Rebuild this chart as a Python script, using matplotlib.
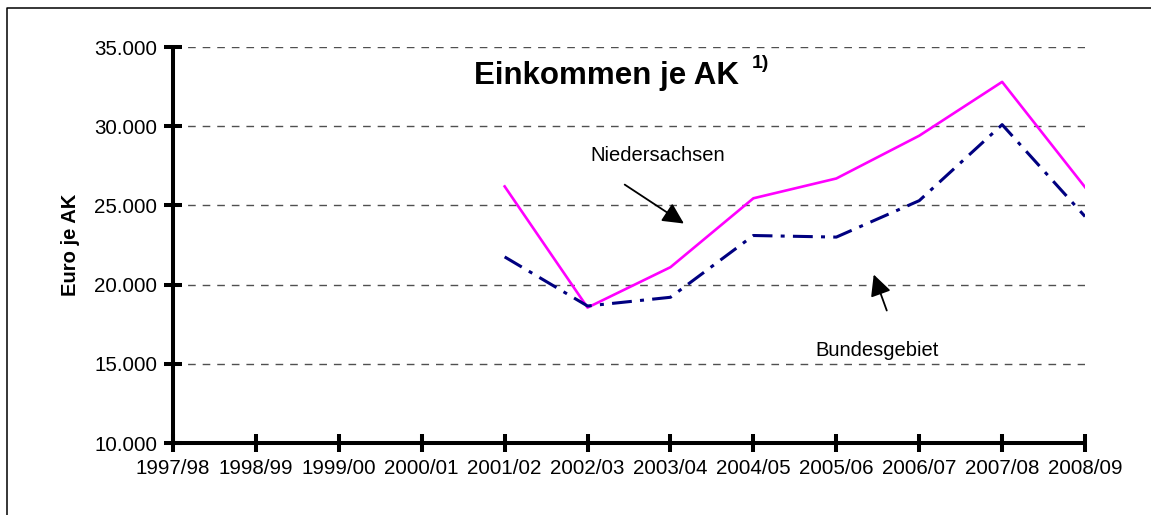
import matplotlib.pyplot as plt
from matplotlib.lines import Line2D

plt.rcParams['font.family'] = ['Liberation Sans', 'DejaVu Sans']

# data
years = ["1997/98", "1998/99", "1999/00", "2000/01", "2001/02", "2002/03",
         "2003/04", "2004/05", "2005/06", "2006/07", "2007/08", "2008/09"]
nds_years = years[4:]
niedersachsen = [26200, 18550, 21100, 25450, 26700, 29400, 32800, 26150]
bundesgebiet = [21750, 18650, 19200, 23100, 23000, 25300, 30100, 24300]
y_ticks = [10000, 15000, 20000, 25000, 30000, 35000]
y_ticklabels = ["10.000", "15.000", "20.000", "25.000", "30.000", "35.000"]

fig = plt.figure(figsize=(11.51, 5.15), dpi=100)
ax = fig.add_axes([0.1503, 0.1398, 0.7924, 0.7689])

x_all = list(range(len(years)))
x_data = [years.index(y) for y in nds_years]

# grid lines
for v in y_ticks[1:]:
    ax.axhline(v, color='#505050', lw=1.0, ls=(0, (5.5, 5)), zorder=1)

ax.plot(x_data, niedersachsen, color='#FF00FF', lw=1.9, zorder=3)
ax.plot(x_data, bundesgebiet, color='#000080', lw=2.2,
        ls=(0, (6.5, 2.7, 1.3, 2.7)), zorder=3)

ax.set_xlim(0, len(years) - 1)
ax.set_ylim(10000, 35000)
ax.set_xticks(x_all)
ax.set_xticklabels(years)
ax.set_yticks(y_ticks)
ax.set_yticklabels(y_ticklabels)

for s in ['top', 'right']:
    ax.spines[s].set_visible(False)
for s in ['left', 'bottom']:
    ax.spines[s].set_linewidth(2.9)
    ax.spines[s].set_capstyle('round')
ax.tick_params(direction='inout', length=13, width=2.9, labelsize=14.8, pad=5)
ax.tick_params(axis='y', pad=5)
for t in ax.xaxis.get_ticklines() + ax.yaxis.get_ticklines():
    t.set_solid_capstyle('round')

# annotations
ax.annotate("", xy=(6.19, 23760), xytext=(5.42, 26410),
            arrowprops=dict(arrowstyle='-|>', mutation_scale=32, lw=1.3, color='black'))
ax.text(5.85, 28180, "Niedersachsen", ha='center', va='center', fontsize=14.5)
ax.annotate("", xy=(8.44, 20800), xytext=(8.62, 18200),
            arrowprops=dict(arrowstyle='-|>', mutation_scale=32, lw=1.3, color='black'))
ax.text(8.49, 15870, "Bundesgebiet", ha='center', va='center', fontsize=14.5)

# title and axis label
fig.text(0.527, 0.852, "Einkommen je AK", ha='center', va='center',
         fontsize=22.5, fontweight='bold')
fig.text(0.6535, 0.877, "1)", ha='left', va='center', fontsize=14, fontweight='bold')
fig.text(0.061, 0.524, "Euro je AK", ha='center', va='center', rotation=90,
         fontsize=14.5, fontweight='bold')

# frame around the chart area
fig.add_artist(Line2D([7 / 1151, 7 / 1151, 1], [0, 1 - 8 / 515, 1 - 8 / 515],
                      transform=fig.transFigure, color='black', lw=1.1))

fig.savefig("out.png", dpi=100)
